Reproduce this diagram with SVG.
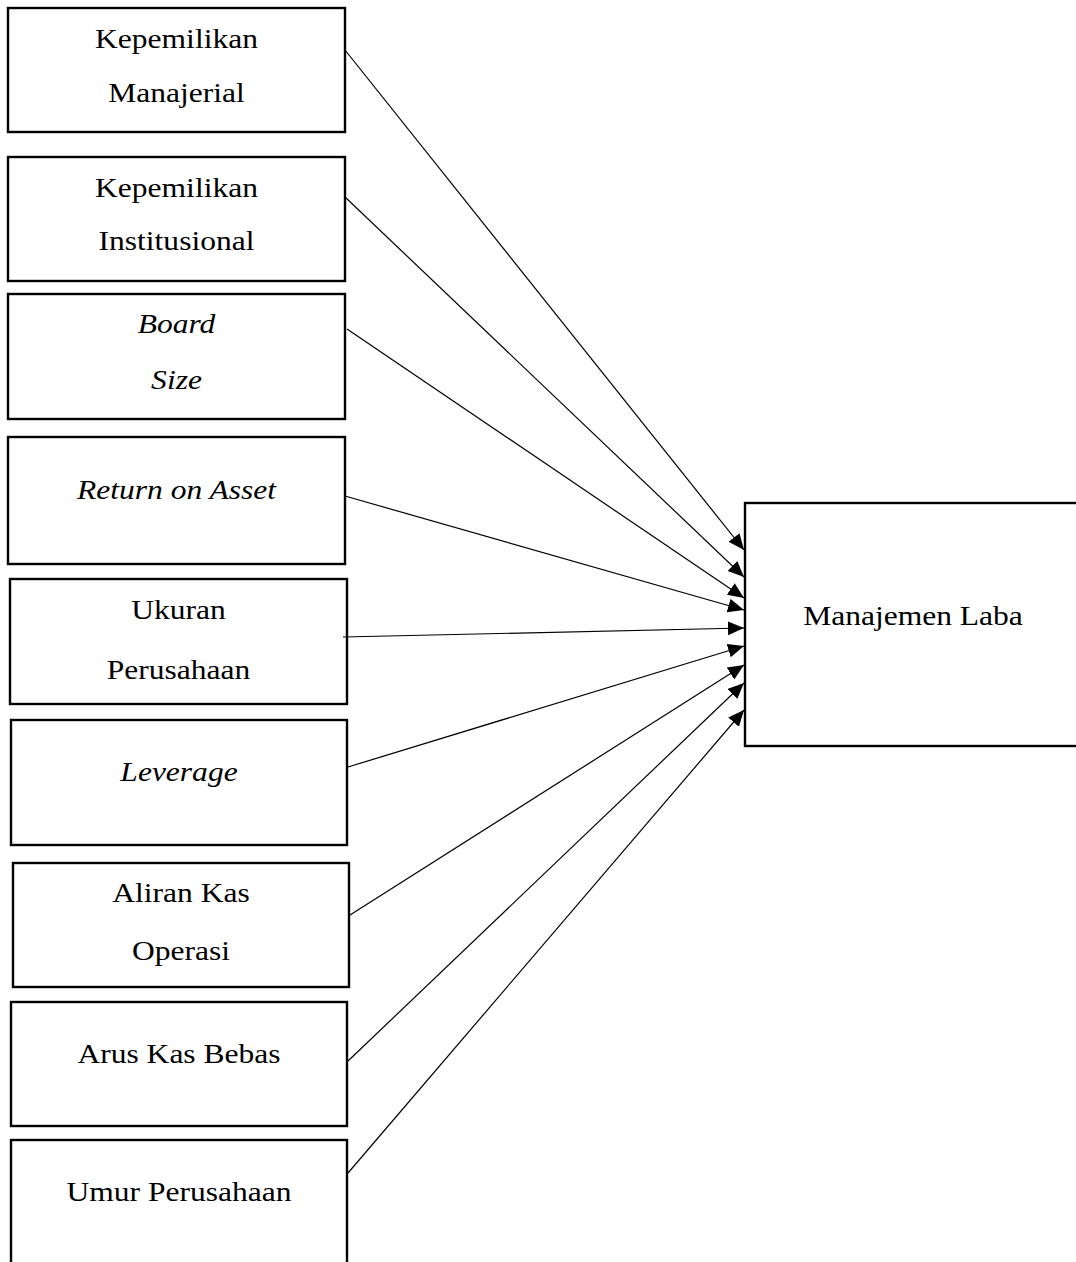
<svg xmlns="http://www.w3.org/2000/svg" width="1076" height="1262" viewBox="0 0 1076 1262">
<style>
.box{fill:#fff;stroke:#000;stroke-width:2.4}
.t{font-family:"Liberation Serif","Times New Roman",serif;font-size:26.5px;fill:#000;text-anchor:middle}
.i{font-style:italic}
.c{stroke:#000;stroke-width:1.2;fill:none;marker-end:url(#ah)}
</style>
<defs>
<marker id="ah" markerUnits="userSpaceOnUse" markerWidth="18" markerHeight="16" refX="16" refY="7" orient="auto">
<path d="M0,0 L16,7 L0,14 z" fill="#000"/>
</marker>
</defs>
<rect width="1076" height="1262" fill="#fff"/>
<g id="n1"><rect class="box" x="8" y="8" width="337" height="124"/>
<text class="t" transform="translate(176.5,48) scale(1.19,1)">Kepemilikan</text>
<text class="t" transform="translate(176.5,102) scale(1.19,1)">Manajerial</text></g>
<g id="n2"><rect class="box" x="8" y="157" width="337" height="124"/>
<text class="t" transform="translate(176.5,197) scale(1.19,1)">Kepemilikan</text>
<text class="t" transform="translate(176.5,250) scale(1.19,1)">Institusional</text></g>
<g id="n3"><rect class="box" x="8" y="294" width="337" height="125"/>
<text class="t i" transform="translate(176.5,333) scale(1.19,1)">Board</text>
<text class="t i" transform="translate(176.5,389) scale(1.19,1)">Size</text></g>
<g id="n4"><rect class="box" x="8" y="437" width="337" height="127"/>
<text class="t i" transform="translate(176.5,499) scale(1.19,1)">Return on Asset</text></g>
<g id="n5"><rect class="box" x="10" y="579" width="337" height="125"/>
<text class="t" transform="translate(178.5,619) scale(1.19,1)">Ukuran</text>
<text class="t" transform="translate(178.5,679) scale(1.19,1)">Perusahaan</text></g>
<g id="n6"><rect class="box" x="11" y="720" width="336" height="125"/>
<text class="t i" transform="translate(179,781) scale(1.19,1)">Leverage</text></g>
<g id="n7"><rect class="box" x="13" y="863" width="336" height="124"/>
<text class="t" transform="translate(181,902) scale(1.19,1)">Aliran Kas</text>
<text class="t" transform="translate(181,960) scale(1.19,1)">Operasi</text></g>
<g id="n8"><rect class="box" x="11" y="1002" width="336" height="124"/>
<text class="t" transform="translate(179,1063) scale(1.19,1)">Arus Kas Bebas</text></g>
<g id="n9"><rect class="box" x="11" y="1140" width="336" height="135"/>
<text class="t" transform="translate(179,1201) scale(1.19,1)">Umur Perusahaan</text></g>
<g id="target"><rect class="box" x="745" y="503" width="340" height="243"/>
<text class="t" transform="translate(913,625) scale(1.19,1)">Manajemen Laba</text></g>
<g id="connectors">
<line class="c" x1="345" y1="50" x2="744" y2="550"/>
<line class="c" x1="345" y1="197" x2="744" y2="577"/>
<line class="c" x1="347" y1="329" x2="744" y2="598"/>
<line class="c" x1="345" y1="496" x2="744" y2="610"/>
<line class="c" x1="343" y1="637" x2="744" y2="628"/>
<line class="c" x1="348" y1="767" x2="744" y2="646"/>
<line class="c" x1="350" y1="915" x2="744" y2="665"/>
<line class="c" x1="348" y1="1061" x2="744" y2="683"/>
<line class="c" x1="348" y1="1173" x2="744" y2="710"/>
</g>
</svg>
